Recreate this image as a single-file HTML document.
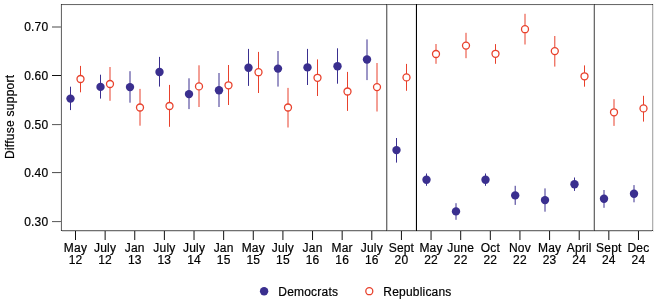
<!DOCTYPE html>
<html><head><meta charset="utf-8"><style>
html,body{margin:0;padding:0;background:#fff;width:657px;height:302px;overflow:hidden}
svg{display:block;will-change:transform}
text{font-family:"Liberation Sans",sans-serif;font-size:12px;fill:#000;letter-spacing:0.2px;stroke:#000;stroke-width:0.2px}
</style></head><body>
<svg width="657" height="302" viewBox="0 0 657 302">
<rect x="0" y="0" width="657" height="302" fill="#fff"/>

<rect x="62" y="5" width="590" height="1" fill="#f6f6f6"/>
<rect x="62" y="231" width="590" height="1" fill="#d8d8d8"/>
<rect x="60" y="4" width="1" height="227" fill="#f0f0f0"/>
<rect x="653" y="4" width="1" height="228" fill="#e8e8e8"/>
<rect x="387" y="5" width="1" height="225" fill="#c8c8c8"/>
<rect x="415" y="5" width="1" height="225" fill="#e8e8e8"/>
<rect x="593" y="5" width="1" height="225" fill="#d0d0d0"/>
<rect x="61" y="4" width="592" height="1" fill="#6a6a6a"/>
<rect x="61" y="230" width="592" height="1" fill="#707070"/>
<rect x="61" y="4" width="1" height="227" fill="#6a6a6a"/>
<rect x="652" y="4" width="1" height="227" fill="#b0b0b0"/>
<rect x="386" y="5" width="1" height="225" fill="#707070"/>
<rect x="416" y="5" width="1" height="225" fill="#000000"/>
<rect x="594" y="5" width="1" height="225" fill="#6a6a6a"/>
<rect x="61" y="4" width="1" height="1" fill="#383838"/>
<rect x="61" y="230" width="1" height="1" fill="#383838"/>
<rect x="386" y="4" width="1" height="1" fill="#383838"/>
<rect x="386" y="230" width="1" height="1" fill="#383838"/>
<rect x="594" y="4" width="1" height="1" fill="#383838"/>
<rect x="594" y="230" width="1" height="1" fill="#383838"/>
<rect x="652" y="4" width="1" height="1" fill="#383838"/>
<rect x="652" y="230" width="1" height="1" fill="#383838"/>
<rect x="416" y="4" width="1" height="1" fill="#000"/>
<rect x="416" y="230" width="1" height="1" fill="#000"/>
<rect x="52" y="26" width="9" height="1" fill="#a4a4a4"/>
<rect x="52" y="27" width="9" height="1" fill="#a4a4a4"/>
<text x="48.3" y="31.3" text-anchor="end">0.70</text>
<rect x="52" y="75" width="9" height="1" fill="#111"/>
<text x="48.3" y="79.8" text-anchor="end">0.60</text>
<rect x="52" y="124" width="9" height="1" fill="#666"/>
<rect x="52" y="125" width="9" height="1" fill="#eee"/>
<text x="48.3" y="128.7" text-anchor="end">0.50</text>
<rect x="52" y="172" width="9" height="1" fill="#5a5a5a"/>
<rect x="52" y="173" width="9" height="1" fill="#eee"/>
<text x="48.3" y="176.8" text-anchor="end">0.40</text>
<rect x="52" y="221" width="9" height="1" fill="#666"/>
<rect x="52" y="222" width="9" height="1" fill="#eee"/>
<text x="48.3" y="225.7" text-anchor="end">0.30</text>
<line x1="75.50" y1="231" x2="75.50" y2="240" stroke="#111" stroke-width="1"/>
<text x="75.50" y="252" text-anchor="middle">May</text>
<text x="75.50" y="264" text-anchor="middle">12</text>
<line x1="105.13" y1="231" x2="105.13" y2="240" stroke="#111" stroke-width="1"/>
<text x="105.13" y="252" text-anchor="middle">July</text>
<text x="105.13" y="264" text-anchor="middle">12</text>
<line x1="134.76" y1="231" x2="134.76" y2="240" stroke="#111" stroke-width="1"/>
<text x="134.76" y="252" text-anchor="middle">Jan</text>
<text x="134.76" y="264" text-anchor="middle">13</text>
<line x1="164.39" y1="231" x2="164.39" y2="240" stroke="#111" stroke-width="1"/>
<text x="164.39" y="252" text-anchor="middle">July</text>
<text x="164.39" y="264" text-anchor="middle">13</text>
<line x1="194.02" y1="231" x2="194.02" y2="240" stroke="#111" stroke-width="1"/>
<text x="194.02" y="252" text-anchor="middle">July</text>
<text x="194.02" y="264" text-anchor="middle">14</text>
<line x1="223.65" y1="231" x2="223.65" y2="240" stroke="#111" stroke-width="1"/>
<text x="223.65" y="252" text-anchor="middle">Jan</text>
<text x="223.65" y="264" text-anchor="middle">15</text>
<line x1="253.28" y1="231" x2="253.28" y2="240" stroke="#111" stroke-width="1"/>
<text x="253.28" y="252" text-anchor="middle">May</text>
<text x="253.28" y="264" text-anchor="middle">15</text>
<line x1="282.91" y1="231" x2="282.91" y2="240" stroke="#111" stroke-width="1"/>
<text x="282.91" y="252" text-anchor="middle">July</text>
<text x="282.91" y="264" text-anchor="middle">15</text>
<line x1="312.54" y1="231" x2="312.54" y2="240" stroke="#111" stroke-width="1"/>
<text x="312.54" y="252" text-anchor="middle">Jan</text>
<text x="312.54" y="264" text-anchor="middle">16</text>
<line x1="342.17" y1="231" x2="342.17" y2="240" stroke="#111" stroke-width="1"/>
<text x="342.17" y="252" text-anchor="middle">Mar</text>
<text x="342.17" y="264" text-anchor="middle">16</text>
<line x1="371.80" y1="231" x2="371.80" y2="240" stroke="#111" stroke-width="1"/>
<text x="371.80" y="252" text-anchor="middle">July</text>
<text x="371.80" y="264" text-anchor="middle">16</text>
<line x1="401.43" y1="231" x2="401.43" y2="240" stroke="#111" stroke-width="1"/>
<text x="401.43" y="252" text-anchor="middle">Sept</text>
<text x="401.43" y="264" text-anchor="middle">20</text>
<line x1="431.06" y1="231" x2="431.06" y2="240" stroke="#111" stroke-width="1"/>
<text x="431.06" y="252" text-anchor="middle">May</text>
<text x="431.06" y="264" text-anchor="middle">22</text>
<line x1="460.69" y1="231" x2="460.69" y2="240" stroke="#111" stroke-width="1"/>
<text x="460.69" y="252" text-anchor="middle">June</text>
<text x="460.69" y="264" text-anchor="middle">22</text>
<line x1="490.32" y1="231" x2="490.32" y2="240" stroke="#111" stroke-width="1"/>
<text x="490.32" y="252" text-anchor="middle">Oct</text>
<text x="490.32" y="264" text-anchor="middle">22</text>
<line x1="519.95" y1="231" x2="519.95" y2="240" stroke="#111" stroke-width="1"/>
<text x="519.95" y="252" text-anchor="middle">Nov</text>
<text x="519.95" y="264" text-anchor="middle">22</text>
<line x1="549.58" y1="231" x2="549.58" y2="240" stroke="#111" stroke-width="1"/>
<text x="549.58" y="252" text-anchor="middle">May</text>
<text x="549.58" y="264" text-anchor="middle">23</text>
<line x1="579.21" y1="231" x2="579.21" y2="240" stroke="#111" stroke-width="1"/>
<text x="579.21" y="252" text-anchor="middle">April</text>
<text x="579.21" y="264" text-anchor="middle">24</text>
<line x1="608.84" y1="231" x2="608.84" y2="240" stroke="#111" stroke-width="1"/>
<text x="608.84" y="252" text-anchor="middle">Sept</text>
<text x="608.84" y="264" text-anchor="middle">24</text>
<line x1="638.47" y1="231" x2="638.47" y2="240" stroke="#111" stroke-width="1"/>
<text x="638.47" y="252" text-anchor="middle">Dec</text>
<text x="638.47" y="264" text-anchor="middle">24</text>
<text transform="translate(14.3,116.8) rotate(-90)" text-anchor="middle" style="letter-spacing:0.26px">Diffuse support</text>
<line x1="70.5" y1="86.7" x2="70.5" y2="110.1" stroke="#3a2f8f" stroke-width="1"/>
<line x1="100.5" y1="74.7" x2="100.5" y2="98.6" stroke="#3a2f8f" stroke-width="1"/>
<line x1="130.0" y1="71.2" x2="130.0" y2="102.7" stroke="#3a2f8f" stroke-width="1"/>
<line x1="159.5" y1="56.9" x2="159.5" y2="86.6" stroke="#3a2f8f" stroke-width="1"/>
<line x1="189.0" y1="78.3" x2="189.0" y2="109.1" stroke="#3a2f8f" stroke-width="1"/>
<line x1="219.0" y1="73.0" x2="219.0" y2="107.0" stroke="#3a2f8f" stroke-width="1"/>
<line x1="248.5" y1="48.9" x2="248.5" y2="85.9" stroke="#3a2f8f" stroke-width="1"/>
<line x1="278.0" y1="51.0" x2="278.0" y2="86.6" stroke="#3a2f8f" stroke-width="1"/>
<line x1="307.5" y1="48.9" x2="307.5" y2="85.0" stroke="#3a2f8f" stroke-width="1"/>
<line x1="337.5" y1="48.3" x2="337.5" y2="83.7" stroke="#3a2f8f" stroke-width="1"/>
<line x1="367.0" y1="39.4" x2="367.0" y2="80.1" stroke="#3a2f8f" stroke-width="1"/>
<line x1="396.5" y1="138.0" x2="396.5" y2="162.6" stroke="#3a2f8f" stroke-width="1"/>
<line x1="426.5" y1="173.5" x2="426.5" y2="185.8" stroke="#3a2f8f" stroke-width="1"/>
<line x1="456.0" y1="203.2" x2="456.0" y2="219.8" stroke="#3a2f8f" stroke-width="1"/>
<line x1="485.5" y1="173.5" x2="485.5" y2="185.8" stroke="#3a2f8f" stroke-width="1"/>
<line x1="515.2" y1="185.8" x2="515.2" y2="204.9" stroke="#3a2f8f" stroke-width="1"/>
<line x1="545.0" y1="188.4" x2="545.0" y2="211.7" stroke="#3a2f8f" stroke-width="1"/>
<line x1="574.5" y1="177.5" x2="574.5" y2="190.9" stroke="#3a2f8f" stroke-width="1"/>
<line x1="604.0" y1="190.0" x2="604.0" y2="207.8" stroke="#3a2f8f" stroke-width="1"/>
<line x1="634.0" y1="185.1" x2="634.0" y2="202.3" stroke="#3a2f8f" stroke-width="1"/>
<line x1="80.5" y1="65.9" x2="80.5" y2="92.3" stroke="#e8412c" stroke-width="1"/>
<line x1="110.0" y1="67.0" x2="110.0" y2="100.8" stroke="#e8412c" stroke-width="1"/>
<line x1="140.0" y1="88.9" x2="140.0" y2="125.7" stroke="#e8412c" stroke-width="1"/>
<line x1="169.5" y1="84.9" x2="169.5" y2="126.8" stroke="#e8412c" stroke-width="1"/>
<line x1="199.0" y1="65.3" x2="199.0" y2="107.0" stroke="#e8412c" stroke-width="1"/>
<line x1="228.5" y1="65.0" x2="228.5" y2="105.0" stroke="#e8412c" stroke-width="1"/>
<line x1="258.5" y1="51.9" x2="258.5" y2="93.0" stroke="#e8412c" stroke-width="1"/>
<line x1="288.0" y1="87.9" x2="288.0" y2="127.5" stroke="#e8412c" stroke-width="1"/>
<line x1="317.5" y1="59.4" x2="317.5" y2="96.0" stroke="#e8412c" stroke-width="1"/>
<line x1="347.5" y1="71.9" x2="347.5" y2="110.9" stroke="#e8412c" stroke-width="1"/>
<line x1="377.0" y1="63.0" x2="377.0" y2="111.5" stroke="#e8412c" stroke-width="1"/>
<line x1="406.5" y1="63.9" x2="406.5" y2="90.8" stroke="#e8412c" stroke-width="1"/>
<line x1="436.0" y1="44.0" x2="436.0" y2="63.8" stroke="#e8412c" stroke-width="1"/>
<line x1="466.0" y1="32.8" x2="466.0" y2="58.2" stroke="#e8412c" stroke-width="1"/>
<line x1="495.5" y1="44.1" x2="495.5" y2="63.8" stroke="#e8412c" stroke-width="1"/>
<line x1="525.0" y1="13.8" x2="525.0" y2="44.5" stroke="#e8412c" stroke-width="1"/>
<line x1="554.8" y1="36.0" x2="554.8" y2="66.6" stroke="#e8412c" stroke-width="1"/>
<line x1="584.5" y1="65.4" x2="584.5" y2="86.7" stroke="#e8412c" stroke-width="1"/>
<line x1="614.0" y1="99.2" x2="614.0" y2="125.9" stroke="#e8412c" stroke-width="1"/>
<line x1="643.5" y1="95.8" x2="643.5" y2="121.6" stroke="#e8412c" stroke-width="1"/>
<circle cx="70.5" cy="98.6" r="4.2" fill="#3a2f8f"/>
<circle cx="100.5" cy="86.9" r="4.2" fill="#3a2f8f"/>
<circle cx="130.0" cy="87.1" r="4.2" fill="#3a2f8f"/>
<circle cx="159.5" cy="72.0" r="4.2" fill="#3a2f8f"/>
<circle cx="189.0" cy="94.1" r="4.2" fill="#3a2f8f"/>
<circle cx="219.0" cy="90.2" r="4.2" fill="#3a2f8f"/>
<circle cx="248.5" cy="67.7" r="4.2" fill="#3a2f8f"/>
<circle cx="278.0" cy="68.6" r="4.2" fill="#3a2f8f"/>
<circle cx="307.5" cy="67.4" r="4.2" fill="#3a2f8f"/>
<circle cx="337.5" cy="66.2" r="4.2" fill="#3a2f8f"/>
<circle cx="367.0" cy="59.5" r="4.2" fill="#3a2f8f"/>
<circle cx="396.5" cy="150.1" r="4.2" fill="#3a2f8f"/>
<circle cx="426.5" cy="179.7" r="4.2" fill="#3a2f8f"/>
<circle cx="456.0" cy="211.4" r="4.2" fill="#3a2f8f"/>
<circle cx="485.5" cy="179.7" r="4.2" fill="#3a2f8f"/>
<circle cx="515.2" cy="195.4" r="4.2" fill="#3a2f8f"/>
<circle cx="545.0" cy="200.1" r="4.2" fill="#3a2f8f"/>
<circle cx="574.5" cy="184.3" r="4.2" fill="#3a2f8f"/>
<circle cx="604.0" cy="198.8" r="4.2" fill="#3a2f8f"/>
<circle cx="634.0" cy="193.8" r="4.2" fill="#3a2f8f"/>
<circle cx="80.5" cy="79.0" r="3.5" fill="#fff" stroke="#e8412c" stroke-width="1.3"/>
<circle cx="110.0" cy="84.0" r="3.5" fill="#fff" stroke="#e8412c" stroke-width="1.3"/>
<circle cx="140.0" cy="107.5" r="3.5" fill="#fff" stroke="#e8412c" stroke-width="1.3"/>
<circle cx="169.5" cy="106.0" r="3.5" fill="#fff" stroke="#e8412c" stroke-width="1.3"/>
<circle cx="199.0" cy="86.4" r="3.5" fill="#fff" stroke="#e8412c" stroke-width="1.3"/>
<circle cx="228.5" cy="85.3" r="3.5" fill="#fff" stroke="#e8412c" stroke-width="1.3"/>
<circle cx="258.5" cy="72.2" r="3.5" fill="#fff" stroke="#e8412c" stroke-width="1.3"/>
<circle cx="288.0" cy="107.5" r="3.5" fill="#fff" stroke="#e8412c" stroke-width="1.3"/>
<circle cx="317.5" cy="77.8" r="3.5" fill="#fff" stroke="#e8412c" stroke-width="1.3"/>
<circle cx="347.5" cy="91.5" r="3.5" fill="#fff" stroke="#e8412c" stroke-width="1.3"/>
<circle cx="377.0" cy="87.1" r="3.5" fill="#fff" stroke="#e8412c" stroke-width="1.3"/>
<circle cx="406.5" cy="77.4" r="3.5" fill="#fff" stroke="#e8412c" stroke-width="1.3"/>
<circle cx="436.0" cy="54.0" r="3.5" fill="#fff" stroke="#e8412c" stroke-width="1.3"/>
<circle cx="466.0" cy="45.6" r="3.5" fill="#fff" stroke="#e8412c" stroke-width="1.3"/>
<circle cx="495.5" cy="53.8" r="3.5" fill="#fff" stroke="#e8412c" stroke-width="1.3"/>
<circle cx="525.0" cy="29.2" r="3.5" fill="#fff" stroke="#e8412c" stroke-width="1.3"/>
<circle cx="554.8" cy="51.1" r="3.5" fill="#fff" stroke="#e8412c" stroke-width="1.3"/>
<circle cx="584.5" cy="76.3" r="3.5" fill="#fff" stroke="#e8412c" stroke-width="1.3"/>
<circle cx="614.0" cy="112.3" r="3.5" fill="#fff" stroke="#e8412c" stroke-width="1.3"/>
<circle cx="643.5" cy="108.4" r="3.5" fill="#fff" stroke="#e8412c" stroke-width="1.3"/>
<circle cx="264.1" cy="291.3" r="4.2" fill="#3a2f8f"/>
<text x="278.3" y="295.5">Democrats</text>
<circle cx="369.3" cy="291.2" r="3.5" fill="#fff" stroke="#e8412c" stroke-width="1.3"/>
<text x="383.3" y="295.5">Republicans</text>
</svg>
</body></html>
